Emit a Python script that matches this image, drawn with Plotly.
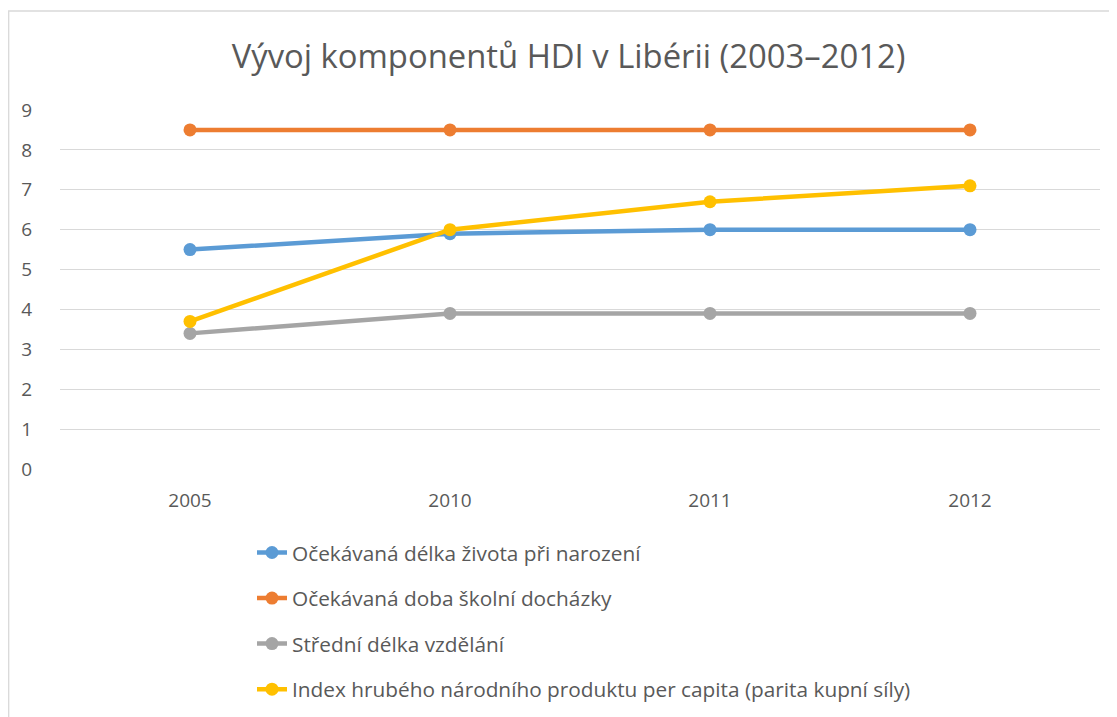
import plotly.graph_objects as go

categories = ["2005", "2010", "2011", "2012"]
zivot = [5.5, 5.9, 6.0, 6.0]
skola = [8.5, 8.5, 8.5, 8.5]
vzdelani = [3.4, 3.9, 3.9, 3.9]
hnp = [3.7, 6.0, 6.7, 7.1]

names = [
    "Očekávaná délka života při narození",
    "Očekávaná doba školní docházky",
    "Střední délka vzdělání",
    "Index hrubého národního produktu per capita (parita kupní síly)",
]
colors = ["#5B9BD5", "#ED7D31", "#A5A5A5", "#FFC000"]
series = [zivot, skola, vzdelani, hnp]

# page body has an 8px margin, so the figure is drawn 8px smaller
W, H = 1109, 709
L, R, T, B = 52, 17, 102, 248
PW = W - L - R
PH = H - T - B
bottom_px = H - B

def px_x(x):
    return (x - L) / PW

def px_y(y):
    return (bottom_px - y) / PH

fig = go.Figure()
for i, (n, c, s) in enumerate(zip(names, colors, series)):
    fig.add_trace(go.Scatter(
        x=categories, y=s, name=n, mode="lines+markers",
        line=dict(color=c, width=4.5),
        marker=dict(color=c, size=13),
        legendgroup=f"g{i}",
    ))

font = "Open Sans, Noto Sans, sans-serif"
fig.update_layout(
    width=W, height=H,
    margin=dict(l=L, r=R, t=T, b=B, autoexpand=False),
    paper_bgcolor="white", plot_bgcolor="white",
    font=dict(family=font, color="#595959"),
    title=dict(text="Vývoj komponentů HDI v Libérii (2003–2012)",
               x=560.5 / W, xanchor="center", xref="container",
               y=1 - 49 / H, yanchor="middle", yref="container",
               font=dict(size=32.8, color="#595959", family=font)),
    xaxis=dict(type="category", range=[-0.5, 3.5], showgrid=False,
               showline=False, zeroline=False, ticks="",
               tickfont=dict(size=19, color="#595959"),
               ticklabelstandoff=18, automargin=False),
    yaxis=dict(range=[0, 9], dtick=1, showgrid=True, gridcolor="#D9D9D9",
               gridwidth=1.3, zeroline=False, showline=False, ticks="",
               tickfont=dict(size=19, color="#595959"),
               ticklabelstandoff=27, automargin=False),
    showlegend=True,
    legend=dict(orientation="v", x=244 / W, xanchor="left", xref="container",
                y=1 - 524.5 / H, yanchor="top", yref="container",
                font=dict(size=20.8, color="#595959", family=font),
                tracegroupgap=15.5, bgcolor="rgba(0,0,0,0)",
                itemwidth=30),
    shapes=[dict(type="rect", xref="paper", yref="paper",
                 x0=px_x(0.7), x1=px_x(W + 20),
                 y0=px_y(H + 20), y1=px_y(3),
                 line=dict(color="#D9D9D9", width=1.3), layer="below")],
)

fig.write_html("out.html")
